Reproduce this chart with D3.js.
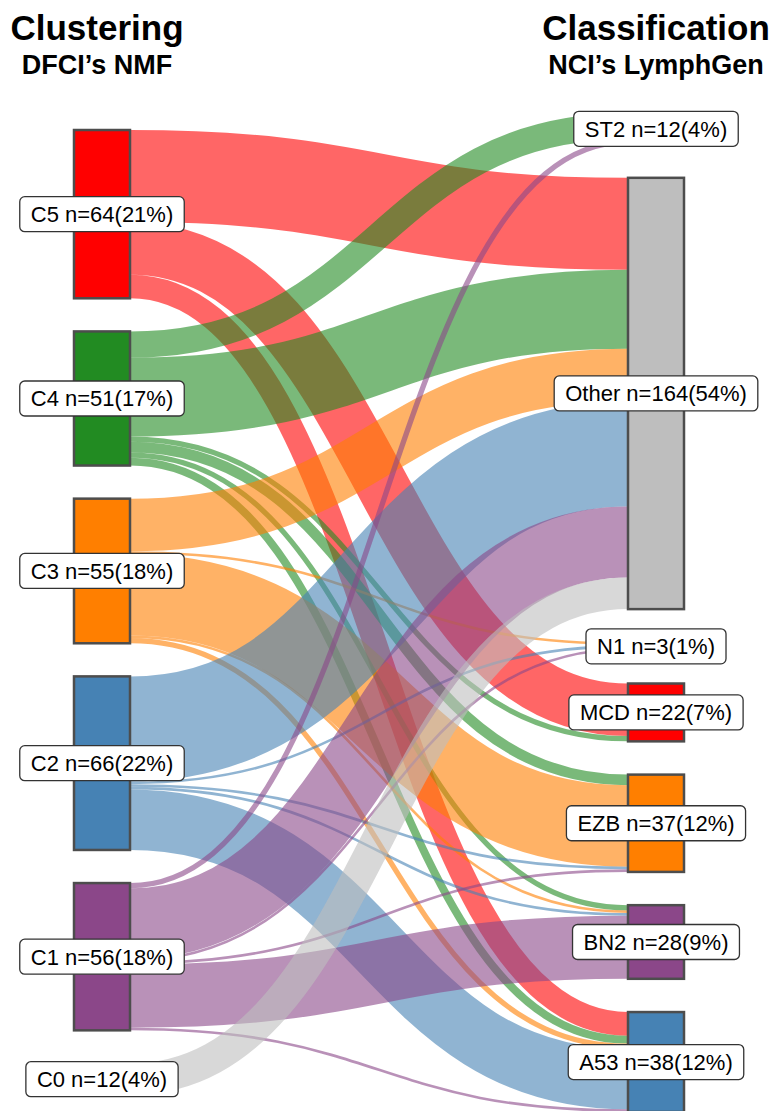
<!DOCTYPE html>
<html>
<head>
<meta charset="utf-8">
<script src="https://cdn.jsdelivr.net/npm/d3@7"></script>
<style>
  body { margin: 0; background: #fff; }
  text { font-family: "Liberation Sans", Arial, Helvetica, sans-serif; }
</style>
</head>
<body>
<svg id="chart" width="773" height="1111"></svg>
<script>
// left column (DFCI NMF clusters) and right column (LymphGen classes), top to bottom
const clusters = ["C5", "C4", "C3", "C2", "C1", "C0"];
const classes = ["ST2", "Other", "N1", "MCD", "EZB", "BN2", "A53"];

// [cluster, class, patients]
const flows = [
  ["C5", "Other", 35], ["C5", "MCD", 20], ["C5", "A53", 9],
  ["C4", "ST2", 10], ["C4", "Other", 30], ["C4", "MCD", 2], ["C4", "EZB", 4], ["C4", "BN2", 2], ["C4", "A53", 3],
  ["C3", "Other", 20], ["C3", "N1", 1], ["C3", "EZB", 31], ["C3", "BN2", 1], ["C3", "A53", 2],
  ["C2", "Other", 40], ["C2", "N1", 1], ["C2", "EZB", 1], ["C2", "BN2", 1], ["C2", "A53", 23],
  ["C1", "ST2", 2], ["C1", "Other", 27], ["C1", "N1", 1], ["C1", "EZB", 1], ["C1", "BN2", 24], ["C1", "A53", 1],
  ["C0", "Other", 12],
];

const colors = {
  C5: "#ff0000", C4: "#228b22", C3: "#ff7f00", C2: "#4682b4", C1: "#8b4789", C0: "#bebebe",
  ST2: "#228b22", Other: "#bebebe", N1: "#ffffff", MCD: "#ff0000", EZB: "#ff7f00", BN2: "#8b4789", A53: "#4682b4",
};

const svg = d3.select("#chart");
const nodeW = 56;
const total = d3.sum(flows, (d) => d[2]);
const ky = d3.scaleLinear().domain([0, total]).range([0, 799.5]);

// R style rounding (half to even), 38/304 -> 12
function pct(v) {
  const x = (v / total) * 100;
  const r = Math.floor(x);
  if (Math.abs(x - r - 0.5) < 1e-9) return r % 2 ? r + 1 : r;
  return Math.round(x);
}

function makeColumn(names, x0, yTop, yBottom) {
  const sums = names.map((n) => d3.sum(flows.filter((f) => f[0] === n || f[1] === n), (f) => f[2]));
  const pad = (yBottom - yTop - ky(total)) / (names.length - 1);
  let y = yTop;
  return names.map((n, i) => {
    const node = { name: n, value: sums[i], x0: x0, x1: x0 + nodeW, y0: y, y1: y + ky(sums[i]) };
    y = node.y1 + pad;
    return node;
  });
}

const leftNodes = makeColumn(clusters, 74, 130, 1095);
const rightNodes = makeColumn(classes, 628, 113, 1112);
const byName = {};
leftNodes.concat(rightNodes).forEach((n) => (byName[n.name] = n));

let links = flows.map((f) => ({ source: byName[f[0]], target: byName[f[1]], value: f[2], width: ky(f[2]) }));

// stack links inside each node
leftNodes.forEach((n) => {
  let y = n.y0;
  links.filter((l) => l.source === n)
    .sort((a, b) => a.target.y0 - b.target.y0)
    .forEach((l) => { l.sy = y + l.width / 2; y += l.width; });
});
rightNodes.forEach((n) => {
  let y = n.y0;
  links.filter((l) => l.target === n)
    .sort((a, b) => a.source.y0 - b.source.y0)
    .forEach((l) => { l.ty = y + l.width / 2; y += l.width; });
});

const linkPath = d3.linkHorizontal();

svg.append("g")
  .selectAll("path")
  .data(links)
  .enter()
  .append("path")
  .attr("d", (d) => linkPath({ source: [d.source.x1, d.sy], target: [d.target.x0, d.ty] }))
  .style("fill", "none")
  .style("stroke", (d) => colors[d.source.name])
  .style("stroke-opacity", 0.6)
  .style("stroke-width", (d) => d.width);

const allNodes = leftNodes.concat(rightNodes);

svg.append("g")
  .selectAll("rect")
  .data(allNodes)
  .enter()
  .append("rect")
  .attr("x", (d) => d.x0)
  .attr("y", (d) => d.y0)
  .attr("width", nodeW)
  .attr("height", (d) => d.y1 - d.y0)
  .style("fill", (d) => colors[d.name])
  .style("stroke", "#4d4d4d")
  .style("stroke-width", 2.5);

// label boxes centred on nodes
const labels = svg.append("g")
  .selectAll("g")
  .data(allNodes)
  .enter()
  .append("g")
  .attr("transform", (d) => `translate(${(d.x0 + d.x1) / 2}, ${(d.y0 + d.y1) / 2})`);

labels.append("rect").attr("class", "box");
labels.append("text")
  .attr("text-anchor", "middle")
  .attr("dy", "0.36em")
  .style("font-size", "22px")
  .style("fill", "#000")
  .text((d) => `${d.name} n=${d.value}(${pct(d.value)}%)`);

labels.each(function () {
  const g = d3.select(this);
  const w = g.select("text").node().getComputedTextLength() + 22;
  g.select("rect")
    .attr("x", -w / 2)
    .attr("y", -17.5)
    .attr("width", w)
    .attr("height", 35)
    .attr("rx", 5)
    .style("fill", "#fff")
    .style("stroke", "#333")
    .style("stroke-width", 1.3);
});

// column titles
const titles = [
  { x: 97, main: "Clustering", sub: "DFCI\u2019s NMF" },
  { x: 656, main: "Classification", sub: "NCI\u2019s LymphGen" },
];
titles.forEach((t) => {
  svg.append("text").attr("x", t.x).attr("y", 40).attr("text-anchor", "middle")
    .style("font-size", "35px").style("font-weight", "bold").text(t.main);
  svg.append("text").attr("x", t.x).attr("y", 74).attr("text-anchor", "middle")
    .style("font-size", "27px").style("font-weight", "bold").text(t.sub);
});
</script>
</body>
</html>
